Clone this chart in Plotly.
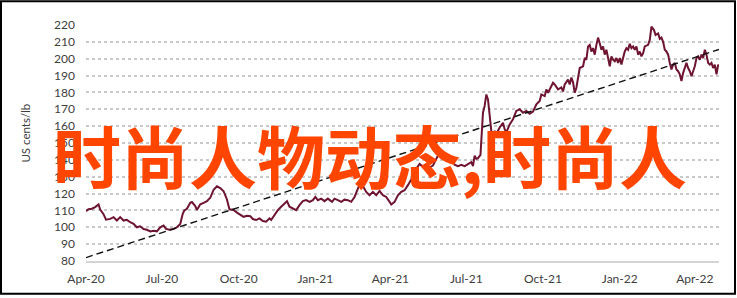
import plotly.graph_objects as go

# ---- data ----
dates = [
    "2020-04-01","2020-04-04","2020-04-08","2020-04-12","2020-04-16","2020-04-18","2020-04-22","2020-04-25",
    "2020-04-30","2020-05-04","2020-05-08","2020-05-12","2020-05-16","2020-05-20","2020-05-24","2020-05-28",
    "2020-06-01","2020-06-05","2020-06-09","2020-06-13","2020-06-17","2020-06-21","2020-06-25","2020-06-29",
    "2020-07-03","2020-07-06","2020-07-10","2020-07-15","2020-07-19","2020-07-23","2020-07-26","2020-07-28",
    "2020-07-31","2020-08-04","2020-08-06","2020-08-10","2020-08-12","2020-08-16","2020-08-20","2020-08-24",
    "2020-08-28","2020-09-01","2020-09-05","2020-09-09","2020-09-13","2020-09-17","2020-09-20","2020-09-25",
    "2020-09-29","2020-10-03","2020-10-07","2020-10-11","2020-10-15",
    "2020-10-18","2020-10-22","2020-10-26","2020-10-30","2020-11-03","2020-11-07","2020-11-09","2020-11-13",
    "2020-11-17","2020-11-21","2020-11-25","2020-11-28","2020-12-01","2020-12-05","2020-12-09","2020-12-13",
    "2020-12-17","2020-12-21","2020-12-25","2020-12-29","2021-01-01","2021-01-04","2021-01-08","2021-01-12",
    "2021-01-16","2021-01-21","2021-01-24","2021-01-28","2021-02-01","2021-02-05","2021-02-09","2021-02-13",
    "2021-02-17","2021-02-21","2021-02-24","2021-02-27","2021-03-03","2021-03-07","2021-03-11","2021-03-15",
    "2021-03-19","2021-03-23","2021-03-27","2021-03-31","2021-04-02","2021-04-06","2021-04-10","2021-04-14",
    "2021-04-18","2021-04-22","2021-04-26","2021-04-30",
    "2021-05-02","2021-05-06","2021-05-10","2021-05-14","2021-05-18","2021-05-22","2021-05-28","2021-06-01",
    "2021-06-05","2021-06-09","2021-06-12","2021-06-15","2021-06-17","2021-06-21","2021-06-25","2021-06-29",
    "2021-07-03","2021-07-07","2021-07-09","2021-07-11","2021-07-13","2021-07-15","2021-07-18","2021-07-21",
    "2021-07-23","2021-07-25","2021-07-27","2021-07-29","2021-07-31","2021-08-02","2021-08-04","2021-08-06",
    "2021-08-10","2021-08-14","2021-08-16","2021-08-18","2021-08-22","2021-08-26","2021-08-30","2021-09-03",
    "2021-09-07","2021-09-11","2021-09-15","2021-09-19","2021-09-23","2021-09-27","2021-09-29","2021-10-03",
    "2021-10-05","2021-10-07","2021-10-11","2021-10-13",
    "2021-10-15","2021-10-19","2021-10-23","2021-10-25","2021-10-27","2021-10-31","2021-11-02","2021-11-04",
    "2021-11-06","2021-11-08","2021-11-10","2021-11-12","2021-11-14","2021-11-18","2021-11-20","2021-11-22",
    "2021-11-24","2021-11-26","2021-11-28","2021-11-30","2021-12-02","2021-12-04","2021-12-06","2021-12-08",
    "2021-12-10","2021-12-12","2021-12-14","2021-12-16","2021-12-18","2021-12-20","2021-12-22","2021-12-24",
    "2021-12-26","2021-12-28","2021-12-30","2022-01-01","2022-01-03","2022-01-05","2022-01-07","2022-01-09",
    "2022-01-11","2022-01-13","2022-01-15","2022-01-17","2022-01-19","2022-01-21","2022-01-23","2022-01-25",
    "2022-01-27","2022-01-29","2022-01-31","2022-02-04","2022-02-06","2022-02-08","2022-02-11","2022-02-13",
    "2022-02-16","2022-02-18","2022-02-20","2022-02-22","2022-02-24","2022-02-26","2022-02-28","2022-03-02",
    "2022-03-04","2022-03-06","2022-03-08","2022-03-10","2022-03-12","2022-03-14","2022-03-16","2022-03-18",
    "2022-03-20","2022-03-22","2022-03-24","2022-03-26","2022-03-28","2022-03-30","2022-04-01","2022-04-03",
    "2022-04-05","2022-04-07","2022-04-09","2022-04-11","2022-04-13","2022-04-15","2022-04-17","2022-04-19",
    "2022-04-21","2022-04-23","2022-04-25","2022-04-27","2022-04-29","2022-04-30",
]
prices = [
    109.6,110.7,111.0,112.0,113.6,110.5,107.8,104.5,
    105.0,106.0,104.0,106.0,104.0,104.4,103.0,102.0,
    100.0,100.6,99.0,98.5,97.5,98.0,97.6,100.0,
    101.0,99.0,98.5,99.0,100.0,102.0,108.0,110.0,
    111.0,114.5,115.0,112.6,110.3,113.6,114.5,115.5,
    117.5,122.3,124.3,123.3,121.4,116.5,110.7,110.3,
    108.7,107.4,106.2,106.8,106.6,
    104.9,104.3,105.3,103.7,103.3,105.3,104.3,107.2,
    110.2,112.2,114.1,115.5,112.2,111.2,110.2,113.1,
    115.5,116.1,115.1,116.1,118.0,116.1,117.0,115.5,
    117.0,115.1,117.0,116.1,115.1,116.4,116.1,115.1,
    118.0,122.9,126.3,124.5,121.0,119.0,121.0,119.0,
    121.6,119.0,118.0,115.1,113.5,115.1,119.0,121.0,
    122.0,125.0,128.8,131.8,
    134.7,137.6,136.0,134.7,135.5,136.6,142.5,143.5,
    144.0,142.5,141.5,139.6,137.1,136.3,137.1,136.3,
    137.6,138.6,136.3,142.5,140.6,141.0,143.0,168.0,
    172.0,178.8,175.8,164.0,157.2,155.3,157.2,155.3,
    159.2,162.0,158.2,156.3,161.0,164.1,169.0,170.0,
    168.0,169.0,167.3,168.6,172.9,174.9,178.8,177.8,
    181.8,179.8,183.7,185.7,
    184.7,181.8,183.0,180.6,184.7,187.6,184.7,188.8,
    186.0,179.8,182.8,188.8,194.5,195.5,200.4,199.4,
    207.3,208.2,204.3,206.3,202.4,208.2,212.5,209.2,
    205.3,207.3,202.4,205.3,200.4,195.5,201.4,199.4,
    198.4,200.4,197.5,200.4,196.5,201.4,204.3,206.3,
    205.3,208.8,206.3,207.3,205.3,207.3,202.4,204.3,
    201.4,203.3,207.3,208.2,211.2,219.0,217.0,214.1,
    215.0,211.8,212.5,210.0,205.3,204.3,202.4,197.5,
    193.6,196.5,197.5,193.6,192.6,190.7,186.7,191.6,
    194.5,197.5,194.5,192.6,189.6,192.6,195.5,200.4,
    201.4,199.4,202.4,200.4,205.3,202.4,197.5,196.5,
    197.5,194.5,196.5,190.7,196.5,195.5,
]
trend_dates = ["2020-04-01", "2022-04-30"]
trend_values = [82.0, 205.5]

tick_dates = ["2020-04-01","2020-07-01","2020-10-01","2021-01-01","2021-04-01",
              "2021-07-01","2021-10-01","2022-01-01","2022-04-01"]
tick_labels = ["Apr-20","Jul-20","Oct-20","Jan-21","Apr-21","Jul-21","Oct-21","Jan-22","Apr-22"]
y_title = "US cents/lb"
overlay_text = "时尚人物动态,时尚人"

# ---- figure ----
W, H = 737, 298
L, R, T, B = 86, 18, 25, 35
pw, ph = W - L - R, H - T - B

def px_x(p):
    return (p - L) / pw

def px_y(p):
    return (H - B - p) / ph

fig = go.Figure()
fig.add_trace(go.Scatter(x=dates, y=prices, mode="lines",
                         line=dict(color="#6e1431", width=2), showlegend=False))
fig.add_trace(go.Scatter(x=trend_dates, y=trend_values, mode="lines",
                         line=dict(color="#111111", width=1.4, dash="7px,4px"), showlegend=False))

tick_font = dict(family="Lato, 'Open Sans', sans-serif", size=12, color="#404040")

fig.update_layout(
    width=W, height=H,
    margin=dict(l=L, r=R, t=T, b=B),
    paper_bgcolor="white", plot_bgcolor="white",
    xaxis=dict(type="date", range=["2020-04-01", "2022-04-30"],
               tickmode="array", tickvals=tick_dates, ticktext=tick_labels,
               showgrid=False, zeroline=False, showline=True,
               linecolor="#d4d4d4", linewidth=1.5, ticks="",
               tickfont=tick_font, ticklabelstandoff=6),
    yaxis=dict(range=[80, 220], tick0=80, dtick=10,
               showgrid=True, gridcolor="#c9c9c9", gridwidth=1.5, griddash="dot",
               zeroline=False, showline=False, ticks="",
               tickfont=tick_font, ticklabelstandoff=10),
    annotations=[
        dict(text=y_title, textangle=-90, xref="paper", yref="paper",
             x=px_x(17), y=px_y(134), showarrow=False,
             font=dict(family="Lato, 'Open Sans', sans-serif", size=11.5, color="#404040")),
        dict(text=overlay_text, xref="paper", yref="paper",
             x=px_x(370), y=px_y(156), showarrow=False,
             font=dict(family="'Noto Sans CJK SC', sans-serif", size=68,
                       color="#ff4500", weight="bold")),
    ],
    shapes=[
        dict(type="rect", xref="paper", yref="paper",
             x0=px_x(1), x1=px_x(735), y0=px_y(296), y1=px_y(1),
             line=dict(color="black", width=2), fillcolor="rgba(0,0,0,0)", layer="above"),
    ],
)

fig.write_html("out.html")
